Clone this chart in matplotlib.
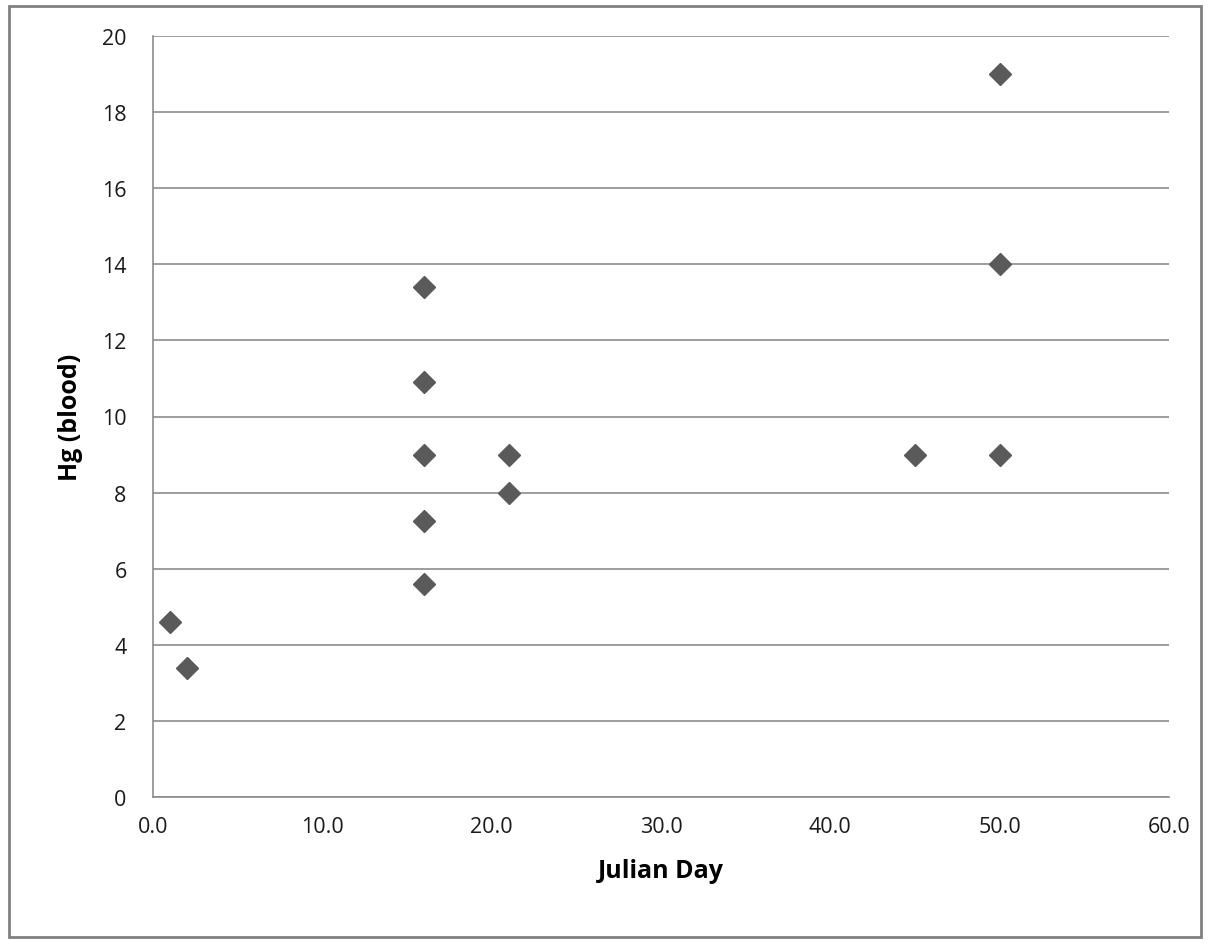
import matplotlib
matplotlib.use("Agg")
import matplotlib.pyplot as plt
from matplotlib.patches import Rectangle

# data
julian_day = [1, 2, 16, 16, 16, 16, 16, 21, 21, 45, 50, 50, 50]
hg_blood = [4.6, 3.4, 13.4, 10.9, 9.0, 7.25, 5.6, 9.0, 8.0, 9.0, 19.0, 14.0, 9.0]

x_ticks = [0, 10, 20, 30, 40, 50, 60]
y_ticks = [0, 2, 4, 6, 8, 10, 12, 14, 16, 18, 20]

plt.rcParams['font.family'] = ['Open Sans', 'DejaVu Sans']

fig = plt.figure(figsize=(12.09, 9.45), dpi=100)
ax = fig.add_axes([153 / 1209, 1 - 798 / 945, (1169 - 153) / 1209, (798 - 37) / 945])

grid_col = '#8c8c8c'
ax.plot(julian_day, hg_blood, linestyle='none', marker='D', markersize=11,
        color='#5a5a5a', zorder=3)

ax.set_xlim(0, 60)
ax.set_ylim(0, 20)
ax.set_xticks(x_ticks)
ax.set_xticklabels([f"{v:.1f}" for v in x_ticks])
ax.set_yticks(y_ticks)
ax.set_yticklabels([str(v) for v in y_ticks])
ax.tick_params(length=0, labelsize=15.5, colors='#1a1a1a', pad=0)
ax.tick_params(axis='x', pad=14)
ax.tick_params(axis='y', pad=19)

ax.yaxis.grid(True, color=grid_col, linewidth=1.2)
ax.set_axisbelow(True)
for side in ['top', 'right']:
    ax.spines[side].set_visible(False)
for side in ['left', 'bottom']:
    ax.spines[side].set_color(grid_col)
    ax.spines[side].set_linewidth(1.2)

ax.set_xlabel('Julian Day', fontsize=18, fontweight='bold', labelpad=15)
ax.set_ylabel('Hg (blood)', fontsize=18, fontweight='bold', labelpad=14)

# outer chart border
fig.patches.append(Rectangle((9 / 1209, 1 - 938 / 945), (1201 - 9) / 1209, (938 - 7) / 945,
                             transform=fig.transFigure, fill=False,
                             edgecolor='#808080', linewidth=2))

fig.savefig('out.png', dpi=100)
